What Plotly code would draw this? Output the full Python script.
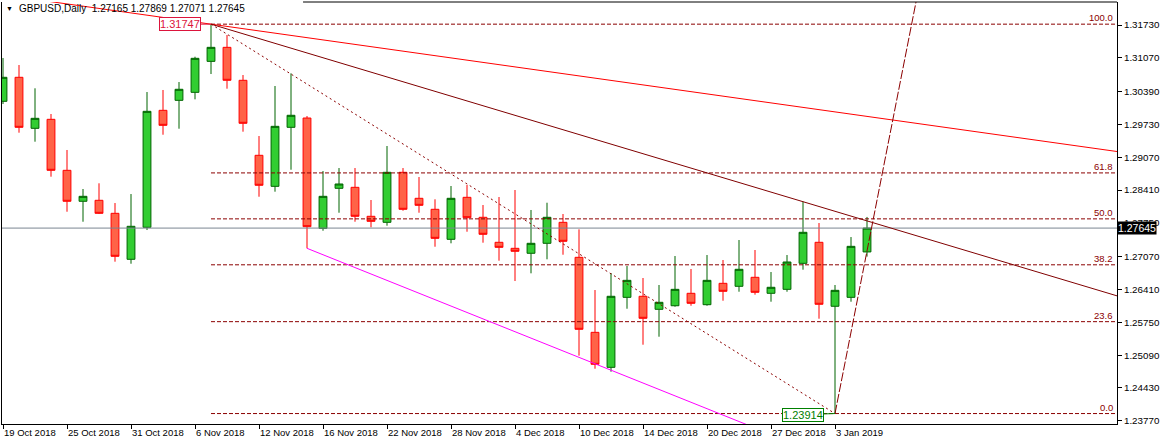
import plotly.graph_objects as go

# ---------------- data ----------------
symbol = "GBPUSD"
timeframe = "Daily"

bar_dates = [
    "19 Oct 2018", "22 Oct 2018", "23 Oct 2018", "24 Oct 2018", "25 Oct 2018",
    "26 Oct 2018", "29 Oct 2018", "30 Oct 2018", "31 Oct 2018", "1 Nov 2018",
    "2 Nov 2018", "5 Nov 2018", "6 Nov 2018", "7 Nov 2018", "8 Nov 2018",
    "9 Nov 2018", "12 Nov 2018", "13 Nov 2018", "14 Nov 2018", "15 Nov 2018",
    "16 Nov 2018", "19 Nov 2018", "20 Nov 2018", "21 Nov 2018", "22 Nov 2018",
    "23 Nov 2018", "26 Nov 2018", "27 Nov 2018", "28 Nov 2018", "29 Nov 2018",
    "30 Nov 2018", "3 Dec 2018", "4 Dec 2018", "5 Dec 2018", "6 Dec 2018",
    "7 Dec 2018", "10 Dec 2018", "11 Dec 2018", "12 Dec 2018", "13 Dec 2018",
    "14 Dec 2018", "17 Dec 2018", "18 Dec 2018", "19 Dec 2018", "20 Dec 2018",
    "21 Dec 2018", "24 Dec 2018", "26 Dec 2018", "27 Dec 2018", "28 Dec 2018",
    "31 Dec 2018", "2 Jan 2019", "3 Jan 2019", "4 Jan 2019", "7 Jan 2019",
]

opens = [1.30195, 1.30678, 1.29652, 1.29833, 1.28807, 1.28184, 1.28204, 1.27942, 1.27017, 1.27661,
         1.30014, 1.30215, 1.30376, 1.30999, 1.31281, 1.30618, 1.29109, 1.28485, 1.29672, 1.29859,
         1.27640, 1.28445, 1.28465, 1.27882, 1.27761, 1.28767, 1.28244, 1.28023, 1.27419, 1.28264,
         1.27862, 1.27359, 1.27238, 1.27138, 1.27339, 1.27761, 1.27057, 1.25548, 1.24844, 1.26252,
         1.26273, 1.26011, 1.26083, 1.26333, 1.26104, 1.26534, 1.26474, 1.26655, 1.26333, 1.26413,
         1.26936, 1.27359, 1.26072, 1.26252, 1.27165]
highs = [1.31066, 1.30925, 1.30457, 1.29940, 1.29216, 1.28431, 1.28546, 1.28149, 1.28330, 1.30382,
         1.30423, 1.30583, 1.31092, 1.31747, 1.31529, 1.30724, 1.29497, 1.30503, 1.30758, 1.29899,
         1.28793, 1.28853, 1.28853, 1.28210, 1.29296, 1.28853, 1.28672, 1.28224, 1.28491, 1.28512,
         1.28109, 1.28270, 1.28411, 1.28009, 1.28155, 1.27928, 1.27620, 1.26399, 1.26741, 1.26882,
         1.26641, 1.26500, 1.27083, 1.26822, 1.27103, 1.27003, 1.27405, 1.27204, 1.26761, 1.27103,
         1.28176, 1.27747, 1.26500, 1.27465, 1.27869]
lows = [1.30141, 1.29564, 1.29383, 1.28679, 1.27974, 1.27773, 1.27928, 1.26969, 1.26928, 1.27606,
        1.29523, 1.29644, 1.30235, 1.30744, 1.30449, 1.29584, 1.28276, 1.28377, 1.28819, 1.27238,
        1.27592, 1.27954, 1.27773, 1.27661, 1.27693, 1.27995, 1.27954, 1.27270, 1.27339, 1.27572,
        1.27351, 1.26989, 1.26580, 1.26735, 1.27017, 1.27109, 1.25078, 1.24816, 1.24756, 1.26023,
        1.25299, 1.25460, 1.26063, 1.26083, 1.26083, 1.26184, 1.26365, 1.26305, 1.26164, 1.26365,
        1.26808, 1.25822, 1.23914, 1.26164, 1.27071]
closes = [1.30678, 1.29672, 1.29853, 1.28807, 1.28184, 1.28284, 1.27942, 1.27077, 1.27681, 1.29994,
          1.29712, 1.30437, 1.31060, 1.31281, 1.30618, 1.29753, 1.28506, 1.29692, 1.29914, 1.27673,
          1.28284, 1.28532, 1.27882, 1.27781, 1.28767, 1.28023, 1.28103, 1.27439, 1.28244, 1.27854,
          1.27520, 1.27258, 1.27178, 1.27339, 1.27862, 1.27379, 1.25609, 1.24905, 1.26273, 1.26594,
          1.25830, 1.26152, 1.26413, 1.26132, 1.26594, 1.26373, 1.26816, 1.26353, 1.26454, 1.26963,
          1.27560, 1.26112, 1.26393, 1.27278, 1.27645]

xtick_labels = ["19 Oct 2018", "25 Oct 2018", "31 Oct 2018", "6 Nov 2018", "12 Nov 2018",
                "16 Nov 2018", "22 Nov 2018", "28 Nov 2018", "4 Dec 2018", "10 Dec 2018",
                "14 Dec 2018", "20 Dec 2018", "27 Dec 2018", "3 Jan 2019"]
ytick_values = [1.23770, 1.24430, 1.25090, 1.25750, 1.26410, 1.27070, 1.27750,
                1.28410, 1.29070, 1.29730, 1.30390, 1.31070, 1.31730]

fib_levels = [0.0, 23.6, 38.2, 50.0, 61.8, 100.0]

# trend-line anchors (bar index, price)
red_line_bars = [13, 69.625]
red_line_prices = [1.31747, 1.29185]
maroon_line_bars = [13, 50]
magenta_line_bars = [19, 39.375]
magenta_line_prices = [1.27238, 1.24609]
steep_line_bars = [52, 54.75]
steep_line_prices = [1.23914, 1.28411]

# ---------------- styling ----------------
FONT = "Liberation Sans, Arial, sans-serif"
MAROON = "#8B0000"
X_RANGE = [-0.0625, 69.625]
Y_RANGE = [1.23704, 1.32193]

x = list(range(len(bar_dates)))
i_high = highs.index(max(highs))
i_low = lows.index(min(lows))
p_high = highs[i_high]
p_low = lows[i_low]
current = closes[-1]


def extend(bars, prices, x_from, x_to):
    slope = (prices[1] - prices[0]) / (bars[1] - bars[0])
    return [x_from, x_to], [prices[0] + slope * (x_from - bars[0]),
                            prices[0] + slope * (x_to - bars[0])]


def add_line(xs, ys, color, dash="solid", width=1):
    fig.add_trace(go.Scatter(x=xs, y=ys, mode="lines",
                             line=dict(color=color, width=width, dash=dash),
                             hoverinfo="skip", showlegend=False))


fig = go.Figure()

# current price line
add_line(X_RANGE, [current, current], "#7A8592")

# fibonacci levels
rng = p_high - p_low
for lv in fib_levels:
    price = p_low + rng * lv / 100.0
    add_line([i_high, X_RANGE[1]], [price, price], MAROON, dash="4px,2px")
# fib diagonal
add_line([i_high, i_low], [p_high, p_low], MAROON, dash="2px,3px")

# red line (extended both ways)
xs, ys = extend(red_line_bars, red_line_prices, X_RANGE[0], X_RANGE[1])
add_line(xs, ys, "#FF0000")
# maroon trend line from high through later high
xs, ys = extend(maroon_line_bars, [highs[maroon_line_bars[0]], highs[maroon_line_bars[1]]],
                maroon_line_bars[0], X_RANGE[1])
add_line(xs, ys, "#800000")
# magenta line
xs, ys = extend(magenta_line_bars, magenta_line_prices, magenta_line_bars[0], X_RANGE[1])
add_line(xs, ys, "#FF00FF")
# steep dashed line
xs, ys = extend(steep_line_bars, steep_line_prices, steep_line_bars[0], 60)
add_line(xs, ys, MAROON, dash="9px,2px")

# candles
fig.add_trace(go.Candlestick(
    x=x, open=opens, high=highs, low=lows, close=closes,
    increasing=dict(fillcolor="#32CD32", line=dict(color="#006400", width=1)),
    decreasing=dict(fillcolor="#FF6347", line=dict(color="#FF0000", width=1)),
    whiskerwidth=0, hoverinfo="skip", showlegend=False,
))

annotations = []
# header
annotations.append(dict(xref="paper", yref="paper", x=0, y=1, xanchor="left", yanchor="top",
                        xshift=2, yshift=-1, text="▼", showarrow=False,
                        font=dict(family=FONT, size=7, color="black")))
annotations.append(dict(xref="paper", yref="paper", x=0, y=1, xanchor="left", yanchor="top",
                        xshift=15, yshift=1,
                        text=f"{symbol},{timeframe}  {opens[-1]:.5f} {highs[-1]:.5f} {lows[-1]:.5f} {closes[-1]:.5f}",
                        showarrow=False, font=dict(family=FONT, size=10, color="black")))
# fib labels
for lv in fib_levels:
    price = p_low + rng * lv / 100.0
    annotations.append(dict(xref="paper", yref="y", x=1, y=price, xanchor="right", yanchor="bottom",
                            xshift=-2, yshift=-1, text=f"{lv:.1f}", showarrow=False,
                            font=dict(family=FONT, size=9.5, color=MAROON)))
# high / low price labels
annotations.append(dict(x=i_high, y=p_high, text=f"{p_high:.5f}", showarrow=True, arrowhead=0,
                        arrowwidth=1, arrowcolor="#DC143C", ax=-31, ay=0, standoff=0,
                        bgcolor="white", bordercolor="#DC143C", borderwidth=1, borderpad=0,
                        font=dict(family=FONT, size=11, color="#DC143C")))
annotations.append(dict(x=i_low, y=p_low, text=f"{p_low:.5f}", showarrow=True, arrowhead=0,
                        arrowwidth=1, arrowcolor="#008000", ax=-32, ay=1, standoff=0,
                        bgcolor="white", bordercolor="#008000", borderwidth=1, borderpad=0,
                        font=dict(family=FONT, size=11, color="#008000")))
# current price tag
annotations.append(dict(xref="paper", yref="y", x=1, y=current, xanchor="left", yanchor="middle",
                        xshift=0, text=f"{current:.5f}", showarrow=False, bgcolor="black",
                        borderpad=0, font=dict(family=FONT, size=10.5, color="white")))

fig.update_layout(
    width=1163, height=444,
    margin=dict(l=2, r=46, t=2, b=20),
    paper_bgcolor="white", plot_bgcolor="white",
    showlegend=False,
    annotations=annotations,
    shapes=[dict(type="line", xref="paper", yref="paper", x0=0.27, x1=1, y0=1, y1=1,
                 line=dict(color="black", width=1))],
    xaxis=dict(range=X_RANGE, showgrid=False, zeroline=False, showline=True,
               linecolor="black", linewidth=1, ticks="outside", ticklen=4, tickcolor="black",
               tickvals=[bar_dates.index(l) for l in xtick_labels], ticktext=xtick_labels,
               ticklabelposition="outside right",
               tickfont=dict(family=FONT, size=9.5, color="black"),
               rangeslider=dict(visible=False), fixedrange=True),
    yaxis=dict(range=Y_RANGE, side="right", showgrid=False, zeroline=False, showline=True,
               mirror=True, linecolor="black", linewidth=1, ticks="outside", ticklen=4,
               tickcolor="black", tickvals=ytick_values, tickformat=".5f",
               tickfont=dict(family=FONT, size=9.8, color="black"), fixedrange=True),
)

fig.write_html("out.html", config={"displayModeBar": False},
               post_script="document.body.style.margin='0px';document.body.style.overflow='hidden';")
